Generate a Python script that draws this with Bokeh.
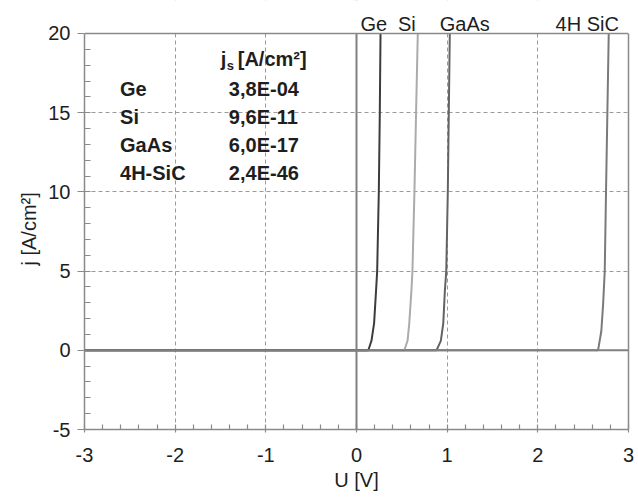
from bokeh.plotting import figure
from bokeh.models import (Label, Span, BoxAnnotation, LinearAxis,
                          SingleIntervalTicker, FixedTicker,
                          CustomJSTickFormatter)
from bokeh.embed import file_html
from bokeh.resources import INLINE

# Forward characteristics j(U)
u_ge = [-3.0, 0.13, 0.165, 0.194, 0.216, 0.228, 0.246, 0.257, 0.265]
j_ge = [0.0, 0.0, 0.6, 1.7, 3.8, 5.0, 10.0, 15.0, 20.0]
u_si = [-3.0, 0.527, 0.563, 0.582, 0.606, 0.617, 0.639, 0.657, 0.676]
j_si = [0.0, 0.0, 0.6, 1.7, 3.8, 5.0, 10.0, 15.0, 20.0]
u_gaas = [-3.0, 0.882, 0.93, 0.957, 0.975, 0.99, 1.007, 1.018, 1.029]
j_gaas = [0.0, 0.0, 0.6, 1.7, 3.8, 5.0, 10.0, 15.0, 20.0]
u_sic = [-3.0, 2.664, 2.70, 2.72, 2.738, 2.752, 2.767, 2.782]
j_sic = [0.0, 0.0, 1.2, 2.9, 5.0, 10.0, 15.0, 20.0]

materials = ["Ge", "Si", "GaAs", "4H-SiC"]
js_values = ["3,8E-04", "9,6E-11", "6,0E-17", "2,4E-46"]
curve_names = ["Ge", "Si", "GaAs", "4H SiC"]
curve_name_u = [0.19, 0.555, 1.194, 2.545]

J_MIN, J_MAX = -5, 20
FONT = "Liberation Sans"
TXT = "#1e1e1e"
GRAY = "#8a8a8a"
plain_ticks = CustomJSTickFormatter(code="return tick.toString();")

# the frame reaches a little above j = 20 so the curve names fit over the chart
p = figure(width=638, height=497, x_range=(-3, 3), y_range=(J_MIN, 22.083),
           output_backend="svg", toolbar_location=None,
           min_border_left=84, min_border_right=10,
           min_border_top=0, min_border_bottom=68)
p.background_fill_color = "white"
p.border_fill_color = "white"
p.outline_line_color = None

p.xaxis.ticker = SingleIntervalTicker(interval=1, num_minor_ticks=5)
p.yaxis.ticker = SingleIntervalTicker(interval=5, num_minor_ticks=5)
p.yaxis.bounds = (J_MIN, J_MAX)
for ax in (p.xaxis, p.yaxis):
    ax.formatter = plain_ticks
    ax.axis_line_color = GRAY
    ax.axis_line_width = 1.5
    ax.major_tick_line_color = GRAY
    ax.minor_tick_line_color = GRAY
    ax.major_tick_line_width = 1.2
    ax.minor_tick_line_width = 1.2
    ax.major_label_text_font = FONT
    ax.major_label_text_font_size = "20px"
    ax.major_label_text_color = TXT
    ax.axis_label_text_font = FONT
    ax.axis_label_text_font_size = "20px"
    ax.axis_label_text_font_style = "normal"
    ax.axis_label_text_color = TXT
p.xaxis.major_tick_in = 0
p.xaxis.major_tick_out = 3
p.xaxis.minor_tick_in = 5
p.xaxis.minor_tick_out = 0
p.xaxis.major_label_standoff = 15
p.xaxis.axis_label = "U [V]"
p.xaxis.axis_label_standoff = 4
p.yaxis.major_tick_in = 0
p.yaxis.major_tick_out = 7
p.yaxis.minor_tick_in = 6
p.yaxis.minor_tick_out = 0
p.yaxis.major_label_standoff = 7
# trailing no-break spaces keep the title centred on the -5..20 span
p.yaxis.axis_label = "j [A/cm²]" + "\u00a0" * 5
p.yaxis.axis_label_standoff = 5

# right-hand frame edge
right_edge = LinearAxis(ticker=FixedTicker(ticks=[]), bounds=(J_MIN, J_MAX),
                        axis_line_color=GRAY, axis_line_width=1.5,
                        major_tick_line_color=None, minor_tick_line_color=None,
                        major_label_text_font_size="0px")
p.add_layout(right_edge, "right")

# dashed grid
p.xgrid.ticker = FixedTicker(ticks=[-2, -1, 1, 2])
p.ygrid.ticker = FixedTicker(ticks=[5, 10, 15])
for g in (p.xgrid, p.ygrid):
    g.grid_line_color = "#9a9a9a"
    g.grid_line_dash = "4 3"
    g.grid_line_width = 1

# zero lines
p.add_layout(Span(location=0, dimension="width", line_color="#808080", line_width=2))
p.add_layout(Span(location=0, dimension="height", line_color="#808080", line_width=2))

# curves
p.line(u_sic, j_sic, line_color="#7a7a7a", line_width=2)
p.line(u_gaas, j_gaas, line_color="#636363", line_width=2)
p.line(u_si, j_si, line_color="#ababab", line_width=2)
p.line(u_ge, j_ge, line_color="#3c3c3c", line_width=2)

# blank strip above j = 20, closed by the top frame edge
p.add_layout(BoxAnnotation(bottom=J_MAX, fill_color="white", fill_alpha=1,
                           line_color=None))
p.add_layout(Span(location=J_MAX, dimension="width", line_color=GRAY,
                  line_width=1.5))

# curve names in the strip
for name, xpos in zip(curve_names, curve_name_u):
    p.add_layout(Label(x=xpos, y=20.63, text=name, text_align="center",
                       text_baseline="alphabetic", text_font=FONT,
                       text_font_size="20px", text_color=TXT))

# saturation current table
def bold_label(x, y, text, size="20px"):
    p.add_layout(Label(x=x, y=y, text=text, text_baseline="middle",
                       text_font=FONT, text_font_size=size,
                       text_font_style="bold", text_color=TXT))

bold_label(-1.496, 18.4, "j")
bold_label(-1.43, 17.98, "s", size="13px")
bold_label(-1.31, 18.4, "[A/cm²]")
for k, (m, v) in enumerate(zip(materials, js_values)):
    yk = 16.51 - k * 1.78
    bold_label(-2.608, yk, m)
    bold_label(-1.408, yk, v)

open("out.html", "w").write(file_html(p, INLINE))
